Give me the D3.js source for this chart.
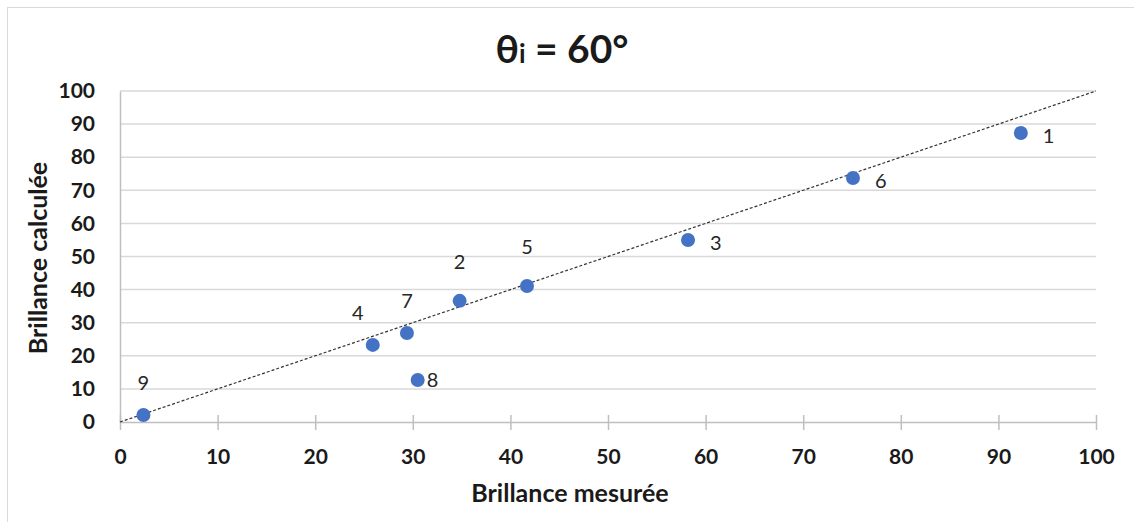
<!DOCTYPE html>
<html><head><meta charset="utf-8">
<script src="https://cdn.jsdelivr.net/npm/d3@7"></script>
<style>body{margin:0;background:#fff}svg{display:block}text{font-family:Lato,"Open Sans",sans-serif}</style>
</head><body><svg id="c" width="1134" height="522"></svg>
<script>
const pointIds = ["1","2","3","4","5","6","7","8","9"];
const measured = [92.3, 34.8, 58.2, 25.9, 41.7, 75.1, 29.4, 30.5, 2.4];
const calculated = [87.3, 36.6, 55.0, 23.3, 41.1, 73.7, 26.9, 12.7, 2.1];
const labelPos = ["right","above","right","aboveLeft","above","right","above","rightNear","above"];
const lineX = [0, 100];
const lineY = [0, 100];
const xTicks = [0,10,20,30,40,50,60,70,80,90,100];
const yTicks = [0,10,20,30,40,50,60,70,80,90,100];

const svg = d3.select("#c");
svg.append("rect").attr("x",7.5).attr("y",7.5).attr("width",1140).attr("height",540)
  .attr("fill","none").attr("stroke","#d9d9d9");
const x = d3.scaleLinear().domain([0,100]).range([120,1096]);
const y = d3.scaleLinear().domain([0,100]).range([422,91]);

// gridlines
svg.append("g").selectAll("line").data(yTicks.filter(d=>d>0)).join("line")
  .attr("x1",x(0)).attr("x2",x(100)).attr("y1",d=>y(d)).attr("y2",d=>y(d))
  .attr("stroke","#d9d9d9").attr("stroke-width",1.5);

// axes
const xa = svg.append("g").attr("transform",`translate(0,${y(0)})`)
  .call(d3.axisBottom(x).tickValues(xTicks).tickSize(6).tickPadding(21).tickSizeOuter(0));
const ya = svg.append("g").attr("transform",`translate(${x(0)},0)`)
  .call(d3.axisLeft(y).tickValues(yTicks).tickSize(0).tickPadding(25));
[xa,ya].forEach(a=>{
  a.select(".domain").attr("stroke","#bfbfbf").attr("stroke-width",1.5);
  a.selectAll(".tick line").attr("stroke","#bfbfbf").attr("stroke-width",1.5);
  a.selectAll("text").attr("font-size",21).attr("font-weight","bold").attr("fill","#1a1a1a")
   .style("font-family","Lato, sans-serif");
});
xa.selectAll(".tick line").attr("y1",-7).attr("y2",8);
ya.selectAll(".tick line").remove();

// trend line y = x
svg.append("path").datum(lineX.map((v,i)=>[v,lineY[i]]))
  .attr("d",d3.line().x(d=>x(d[0])).y(d=>y(d[1])))
  .attr("stroke","#333").attr("stroke-width",1.2).attr("stroke-dasharray","3,2").attr("fill","none");

// points
const data = pointIds.map((id,i)=>({id, mx:measured[i], cy:calculated[i], pos:labelPos[i]}));
svg.append("g").selectAll("circle").data(data).join("circle")
  .attr("cx",d=>x(d.mx)).attr("cy",d=>y(d.cy)).attr("r",7).attr("fill","#4472c4");

svg.append("g").selectAll("text").data(data).join("text")
  .attr("x",d=> d.pos==="right" ? x(d.mx)+22 : d.pos==="rightNear" ? x(d.mx)+9 : d.pos==="aboveLeft" ? x(d.mx)-15 : x(d.mx))
  .attr("y",d=> d.pos==="right" ? y(d.cy)+10 : d.pos==="rightNear" ? y(d.cy)+7 : d.id==="2"||d.id==="5" ? y(d.cy)-32 : y(d.cy)-25)
  .attr("text-anchor",d=> d.pos==="right"||d.pos==="rightNear" ? "start" : "middle")
  .attr("font-size",20).attr("fill","#262626").text(d=>d.id);

// title
const t = svg.append("text").attr("x",562).attr("y",63).attr("text-anchor","middle")
  .attr("font-size",39).attr("font-weight","bold").attr("fill","#1a1a1a");
t.append("tspan").text("θ");
t.append("tspan").attr("font-size",26).text("i");
t.append("tspan").text(" = 60°");

// axis titles
svg.append("text").attr("x",570).attr("y",502).attr("text-anchor","middle")
  .attr("font-size",25).attr("font-weight","bold").attr("fill","#1a1a1a").text("Brillance mesurée");
svg.append("text").attr("transform","translate(47,258) rotate(-90)").attr("text-anchor","middle")
  .attr("font-size",25).attr("font-weight","bold").attr("fill","#1a1a1a").text("Brillance calculée");
</script></body></html>
